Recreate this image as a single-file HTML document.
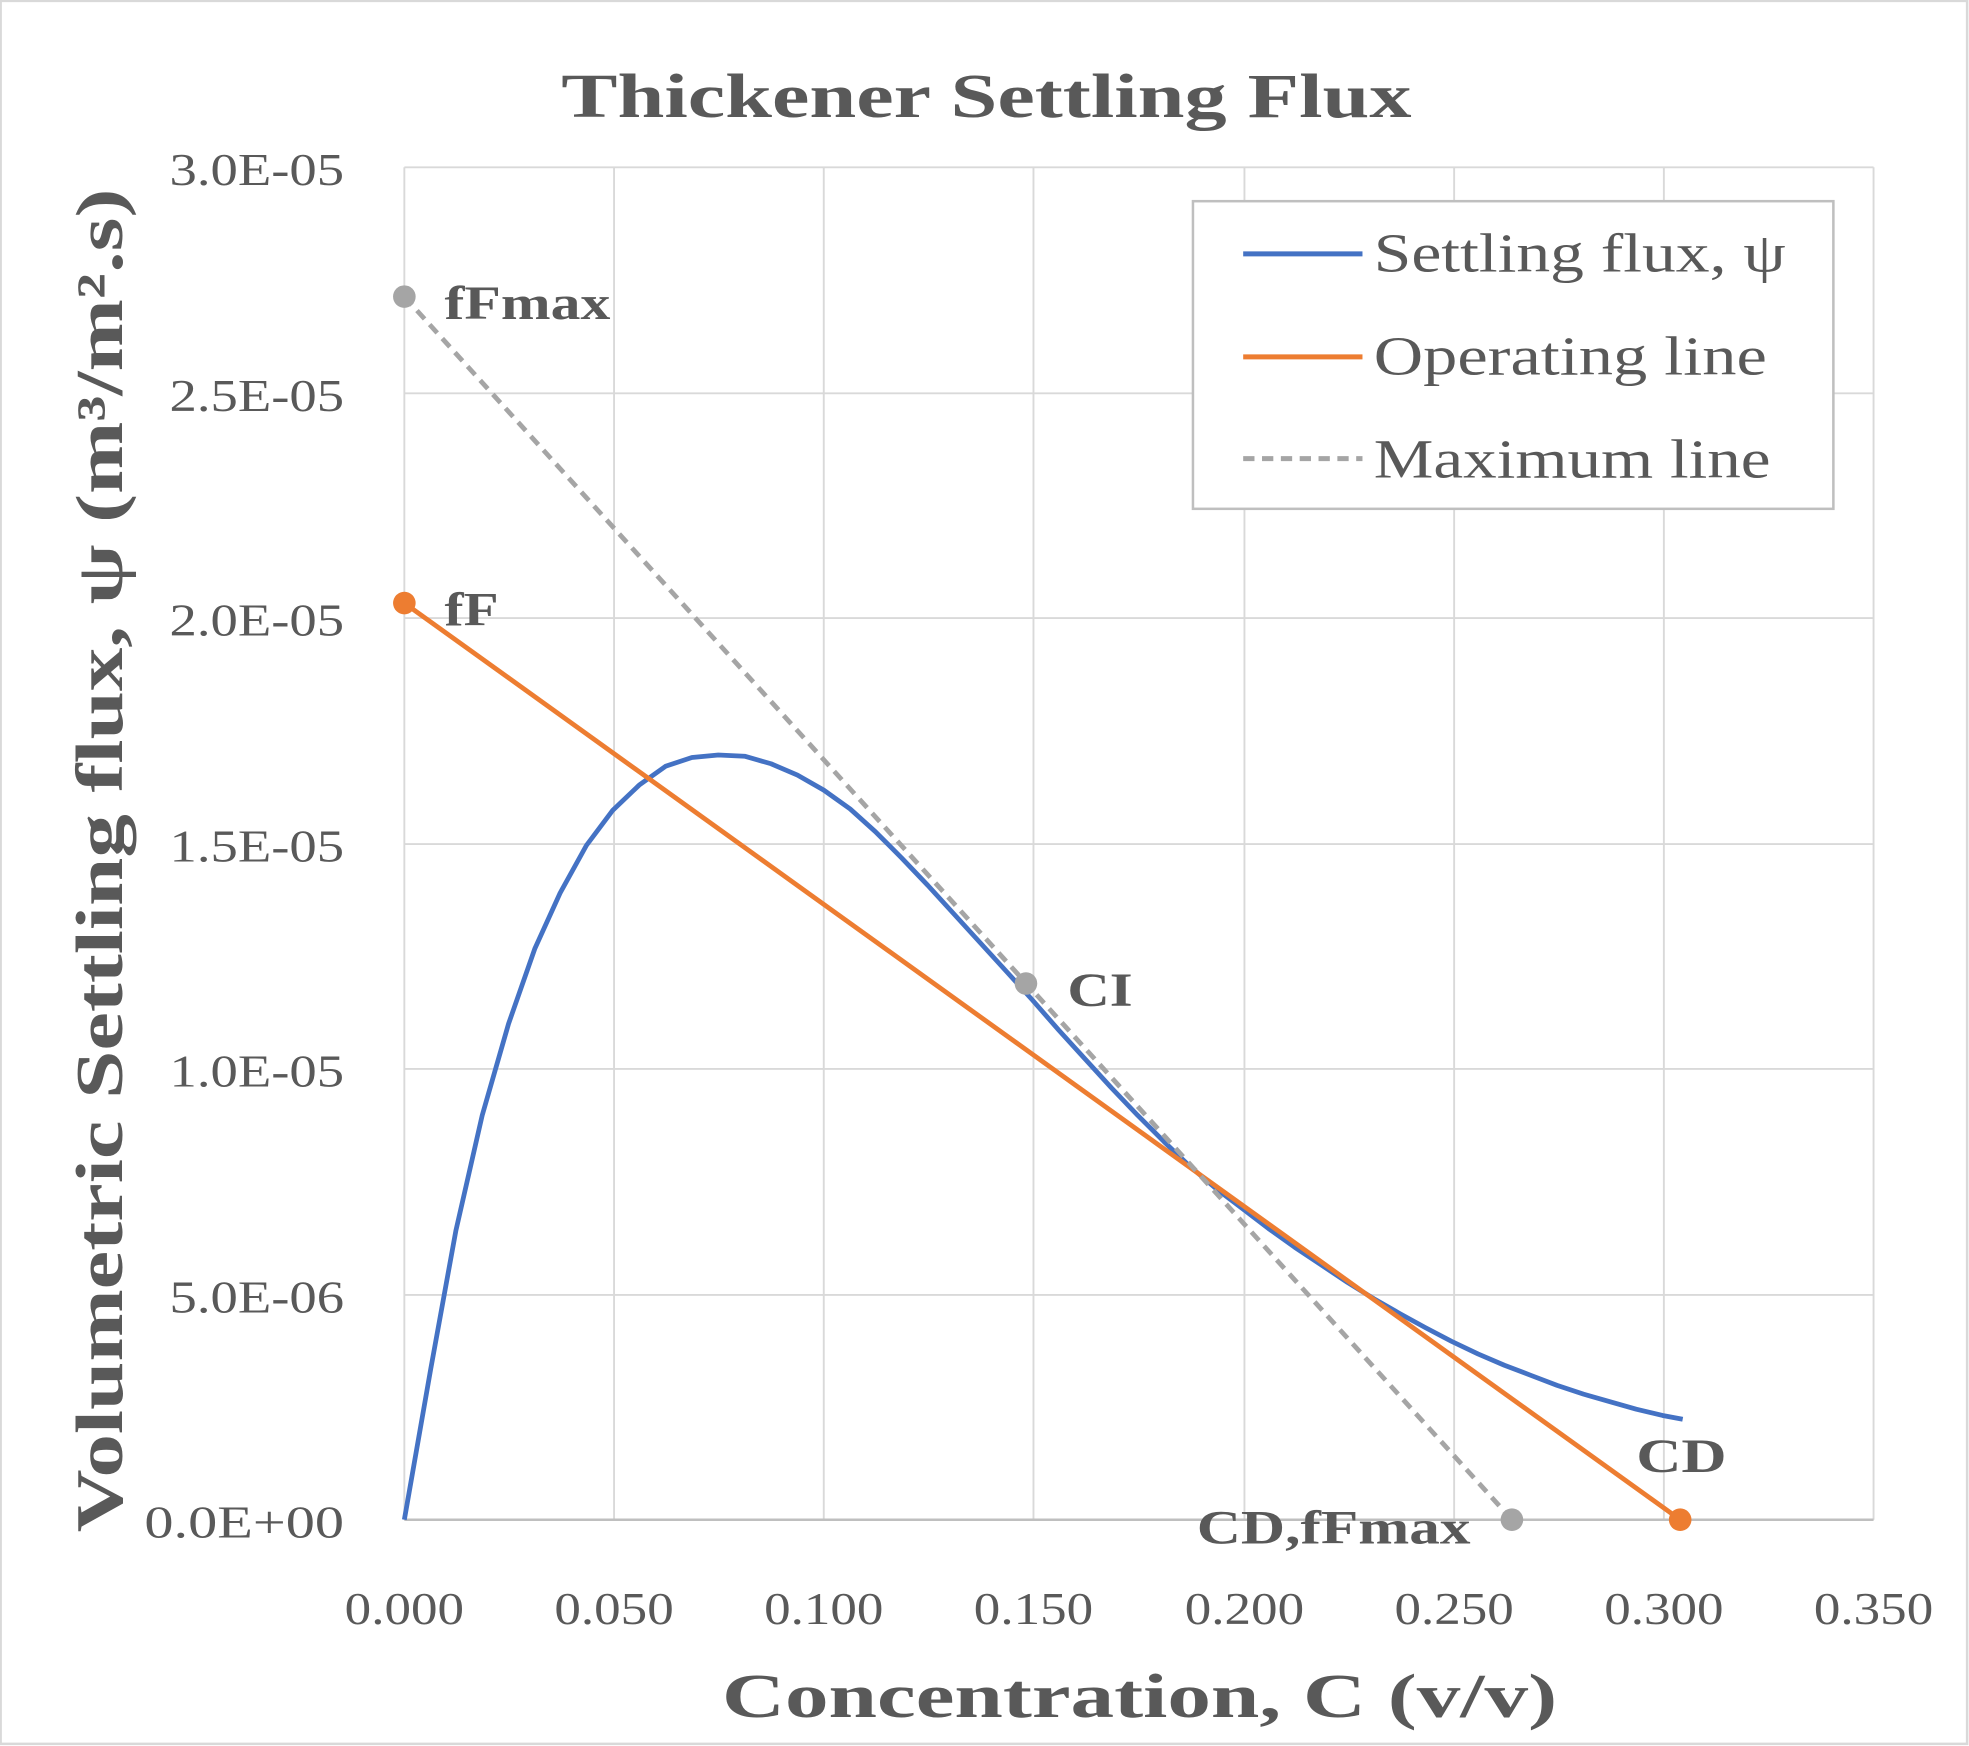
<!DOCTYPE html>
<html><head><meta charset="utf-8"><style>
html,body{margin:0;padding:0;background:#fff}
svg{display:block}
text{font-family:"Liberation Serif",serif;fill:#595959}
</style></head><body>
<svg width="1969" height="1746" viewBox="0 0 1568 1390" xmlns="http://www.w3.org/2000/svg">
<rect x="0.5" y="0.5" width="1566" height="1388" fill="#fff" stroke="#d9d9d9" stroke-width="2"/>
<text x="447" y="93" font-size="50" font-weight="bold" textLength="677" lengthAdjust="spacingAndGlyphs">Thickener Settling Flux</text>
<g stroke="#d9d9d9" stroke-width="1.5">
<line x1="322" y1="133" x2="1492" y2="133"/><line x1="322" y1="313" x2="1492" y2="313"/>
<line x1="322" y1="492" x2="1492" y2="492"/><line x1="322" y1="672" x2="1492" y2="672"/>
<line x1="322" y1="851" x2="1492" y2="851"/><line x1="322" y1="1031" x2="1492" y2="1031"/>
<line x1="322" y1="133" x2="322" y2="1210"/><line x1="489" y1="133" x2="489" y2="1210"/>
<line x1="656" y1="133" x2="656" y2="1210"/><line x1="823" y1="133" x2="823" y2="1210"/>
<line x1="991" y1="133" x2="991" y2="1210"/><line x1="1158" y1="133" x2="1158" y2="1210"/>
<line x1="1325" y1="133" x2="1325" y2="1210"/><line x1="1492" y1="133" x2="1492" y2="1210"/>
</g>
<line x1="322" y1="1210" x2="1492" y2="1210" stroke="#bfbfbf" stroke-width="2"/>
<g font-size="36" text-anchor="end">
<text x="274" y="147" textLength="139" lengthAdjust="spacingAndGlyphs">3.0E-05</text><text x="274" y="327" textLength="139" lengthAdjust="spacingAndGlyphs">2.5E-05</text>
<text x="274" y="506" textLength="139" lengthAdjust="spacingAndGlyphs">2.0E-05</text><text x="274" y="686" textLength="139" lengthAdjust="spacingAndGlyphs">1.5E-05</text>
<text x="274" y="865" textLength="139" lengthAdjust="spacingAndGlyphs">1.0E-05</text><text x="274" y="1045" textLength="139" lengthAdjust="spacingAndGlyphs">5.0E-06</text>
<text x="274" y="1224" textLength="159" lengthAdjust="spacingAndGlyphs">0.0E+00</text>
</g>
<g font-size="36" text-anchor="middle">
<text x="322" y="1293" textLength="95" lengthAdjust="spacingAndGlyphs">0.000</text><text x="489" y="1293" textLength="95" lengthAdjust="spacingAndGlyphs">0.050</text><text x="656" y="1293" textLength="95" lengthAdjust="spacingAndGlyphs">0.100</text>
<text x="823" y="1293" textLength="95" lengthAdjust="spacingAndGlyphs">0.150</text><text x="991" y="1293" textLength="95" lengthAdjust="spacingAndGlyphs">0.200</text><text x="1158" y="1293" textLength="95" lengthAdjust="spacingAndGlyphs">0.250</text>
<text x="1325" y="1293" textLength="95" lengthAdjust="spacingAndGlyphs">0.300</text><text x="1492" y="1293" textLength="95" lengthAdjust="spacingAndGlyphs">0.350</text>
</g>
<text x="575" y="1367" font-size="50" font-weight="bold" textLength="665" lengthAdjust="spacingAndGlyphs">Concentration, C (v/v)</text>
<text transform="translate(97,1220) rotate(-90)" font-size="53" font-weight="bold" textLength="1070" lengthAdjust="spacingAndGlyphs">Volumetric Settling flux, ψ (m³/m².s)</text>
<polyline fill="none" stroke="#4472c4" stroke-width="3.8" stroke-linejoin="round" points="322,1210 343,1090 363,980 384,888 405,815 426,755 446,711 467,673 488,645 509,625 530,610 551,603 572,601 593,602 614,608 635,617 656,629 677,644 697,662 718,683 739,705 760,728 781,751 802,774 822,796 843,820 864,843 885,866 906,888 927,909 948,929 968,946 989,962 1010,978 1031,993 1052,1007 1073,1021 1094,1034 1115,1046 1135,1057 1156,1068 1177,1078 1198,1087 1219,1095 1240,1103 1261,1110 1282,1116 1303,1122 1324,1127 1340,1130"/>
<line x1="322" y1="480" x2="1338" y2="1210" stroke="#ed7d31" stroke-width="3.8"/>
<line x1="322" y1="236" x2="1204" y2="1210" stroke="#a5a5a5" stroke-width="3.8" stroke-dasharray="9,6"/>
<circle cx="322" cy="236" r="9" fill="#a5a5a5"/><circle cx="817" cy="783" r="9" fill="#a5a5a5"/>
<circle cx="1204" cy="1210" r="9" fill="#a5a5a5"/>
<circle cx="322" cy="480" r="9" fill="#ed7d31"/><circle cx="1338" cy="1210" r="9" fill="#ed7d31"/>
<g font-size="38" font-weight="bold">
<text x="354" y="254" textLength="132" lengthAdjust="spacingAndGlyphs">fFmax</text><text x="354" y="498" textLength="43" lengthAdjust="spacingAndGlyphs">fF</text>
<text x="850" y="801" textLength="52" lengthAdjust="spacingAndGlyphs">CI</text><text x="1303" y="1172" textLength="72" lengthAdjust="spacingAndGlyphs">CD</text>
<text x="953" y="1229" textLength="218" lengthAdjust="spacingAndGlyphs">CD,fFmax</text>
</g>
<rect x="950" y="160" width="510" height="245" fill="#fff" stroke="#bfbfbf" stroke-width="2"/>
<line x1="990" y1="202" x2="1085" y2="202" stroke="#4472c4" stroke-width="4"/>
<line x1="990" y1="284" x2="1085" y2="284" stroke="#ed7d31" stroke-width="4"/>
<line x1="990" y1="365" x2="1085" y2="365" stroke="#a5a5a5" stroke-width="4" stroke-dasharray="9,6"/>
<g font-size="44">
<text x="1094" y="216" textLength="328" lengthAdjust="spacingAndGlyphs">Settling flux, ψ</text>
<text x="1094" y="298" textLength="313" lengthAdjust="spacingAndGlyphs">Operating line</text>
<text x="1094" y="380" textLength="316" lengthAdjust="spacingAndGlyphs">Maximum line</text>
</g>
</svg>
</body></html>
